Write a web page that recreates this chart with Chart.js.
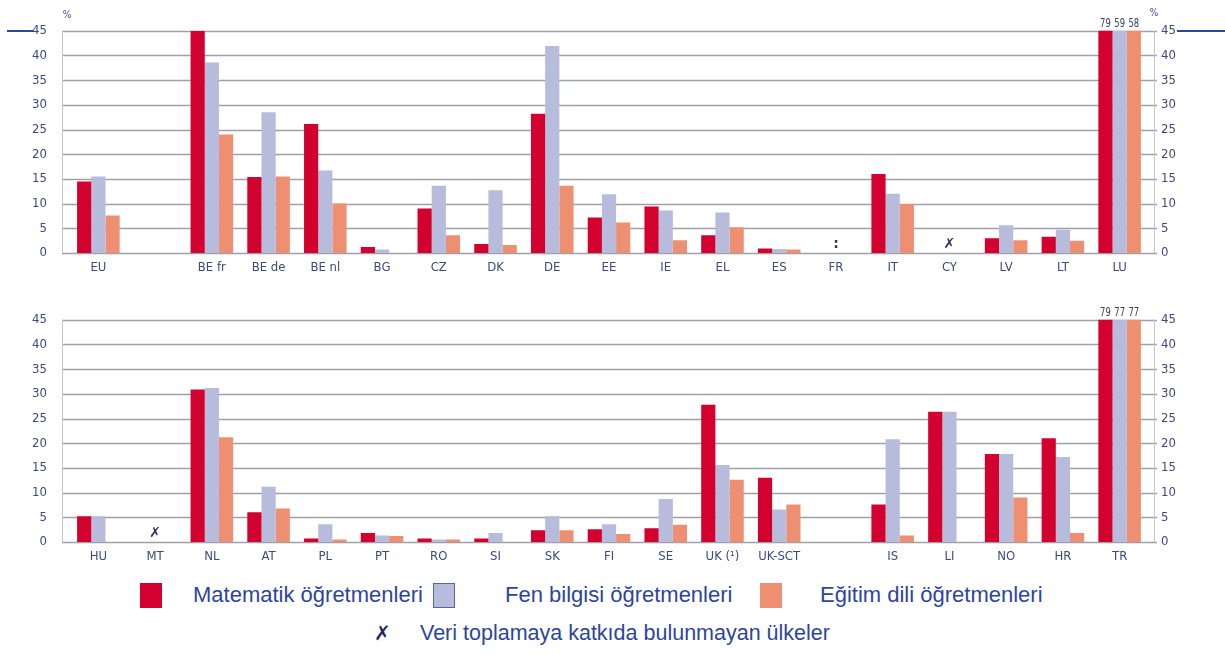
<!DOCTYPE html>
<html lang="tr">
<head>
<meta charset="utf-8">
<script src="https://cdn.jsdelivr.net/npm/chart.js@4.4.1/dist/chart.umd.min.js"></script>
<style>
  body { margin: 0; background: #fff; width: 1225px; height: 655px; position: relative; overflow: hidden;
         font-family: "Liberation Sans", Arial, sans-serif; }
  canvas { position: absolute; left: 0; }
  #chartTop { top: 0; }
  #chartBottom { top: 289px; }
  .rule { position: absolute; height: 2px; background: #2f4a9b; }
  .legend { position: absolute; left: 0; width: 1225px; color: #2d45a0; font-size: 22px; }
  .legend .item { position: absolute; top: 0; white-space: nowrap; }
  .legend .swatch { position: absolute; width: 22px; height: 25px; }
</style>
</head>
<body>
<div class="rule" style="left:7px; top:30px; width:27px;"></div>
<div class="rule" style="left:1177px; top:30px; width:48px;"></div>
<canvas id="chartTop" width="1225" height="285"></canvas>
<canvas id="chartBottom" width="1225" height="285"></canvas>
<div class="legend" id="legendRow" style="top:582px; height:26px;"></div>
<div class="legend" id="legendNote" style="top:621px; height:26px; font-size:21.5px;"></div>
<script>
// series
const seriesNames = ['Matematik öğretmenleri', 'Fen bilgisi öğretmenleri', 'Eğitim dili öğretmenleri'];
const seriesColors = ['#d3012d', '#b7bbdc', '#ee8f71'];

// upper panel
const topLabels = ['EU', '', 'BE fr', 'BE de', 'BE nl', 'BG', 'CZ', 'DK', 'DE', 'EE', 'IE', 'EL', 'ES', 'FR', 'IT', 'CY', 'LV', 'LT', 'LU'];
const topMath     = [14.5, null, 45,   15.4, 26.1, 1.2, 9,    1.8,  28.2, 7.2,  9.4, 3.6, 0.9, null, 16,   null, 3,   3.3, 79];
const topScience  = [15.5, null, 38.6, 28.5, 16.7, 0.7, 13.6, 12.7, 41.9, 11.9, 8.6, 8.2, 0.8, null, 12,   null, 5.6, 4.7, 59];
const topLanguage = [7.6,  null, 24,   15.5, 10,   0,   3.6,  1.6,  13.6, 6.2,  2.6, 5.2, 0.7, null, 9.9,  null, 2.6, 2.5, 58];
const topMarkers = { FR: ':', CY: '✗' };

// lower panel
const bottomLabels = ['HU', 'MT', 'NL', 'AT', 'PL', 'PT', 'RO', 'SI', 'SK', 'FI', 'SE', 'UK (¹)', 'UK-SCT', '', 'IS', 'LI', 'NO', 'HR', 'TR'];
const bottomMath     = [5.2, null, 30.9, 6,    0.7, 1.8, 0.7, 0.7, 2.4, 2.6, 2.8, 27.8, 13,  null, 7.6,  26.4, 17.8, 21,   79];
const bottomScience  = [5.2, null, 31.2, 11.2, 3.6, 1.3, 0.5, 1.8, 5.2, 3.6, 8.7, 15.6, 6.6, null, 20.8, 26.4, 17.8, 17.2, 77];
const bottomLanguage = [0,   null, 21.2, 6.8,  0.5, 1.2, 0.5, 0,   2.4, 1.6, 3.5, 12.6, 7.6, null, 1.3,  0,    9,    1.8,  77];
const bottomMarkers = { MT: '✗' };

const yTicks = [0, 5, 10, 15, 20, 25, 30, 35, 40, 45];
const noteText = 'Veri toplamaya katkıda bulunmayan ülkeler';

const axisFont = { family: '"Liberation Sans Narrow", "DejaVu Sans Condensed", "Liberation Sans", sans-serif', size: 13 };
const axisColor = '#3c4a7d';

// grid lines, axis lines, clipped-bar values, missing-data markers and the % signs
const panelDecor = {
  id: 'panelDecor',
  beforeDatasetsDraw(chart) {
    const { ctx, chartArea, scales } = chart;
    const y = scales.y;
    ctx.save();
    ctx.strokeStyle = '#9ea1aa';
    ctx.lineWidth = 1.5;
    y.ticks.forEach(t => {
      const py = Math.round(y.getPixelForValue(t.value)) + 0.5;
      ctx.beginPath();
      ctx.moveTo(chartArea.left - 8, py);
      ctx.lineTo(chartArea.right + 9, py);
      ctx.stroke();
    });
    ctx.lineWidth = 1;
    ctx.strokeStyle = '#c4c6cc';
    [chartArea.left - 8, chartArea.right + 6].forEach(px => {
      ctx.beginPath();
      ctx.moveTo(px + 0.5, chartArea.top);
      ctx.lineTo(px + 0.5, chartArea.bottom);
      ctx.stroke();
    });
    ctx.restore();
  },
  afterDatasetsDraw(chart, args, opts) {
    const { ctx, chartArea, scales } = chart;
    const max = scales.y.max;
    ctx.save();
    ctx.textAlign = 'center';
    ctx.textBaseline = 'bottom';
    ctx.font = '12px ' + axisFont.family;
    ctx.fillStyle = '#3a3f55';
    // values of bars running past the top of the scale, squeezed to fit the bar width
    chart.data.datasets.forEach((ds, i) => {
      chart.getDatasetMeta(i).data.forEach((bar, j) => {
        if (ds.data[j] > max) {
          ctx.save();
          ctx.translate(bar.x, chartArea.top - 1);
          ctx.scale(0.78, 1);
          ctx.fillText(String(ds.data[j]), 0, 0);
          ctx.restore();
        }
      });
    });

    ctx.fillStyle = '#2a3266';
    ctx.textBaseline = 'middle';
    ctx.font = 'bold 14px "DejaVu Sans", sans-serif';
    Object.entries(opts.markers || {}).forEach(([label, sign]) => {
      const idx = chart.data.labels.indexOf(label);
      ctx.fillText(sign, scales.x.getPixelForValue(idx), chartArea.bottom - 9);
    });

    if (opts.percent) {
      ctx.font = '10px ' + axisFont.family;
      ctx.fillStyle = axisColor;
      ctx.fillText('%', chartArea.left - 3, chartArea.top - 15);
      ctx.fillText('%', chartArea.right + 6, chartArea.top - 17);
    }
    ctx.restore();
  }
};

function makeChart(id, labels, math, science, language, markers, percent) {
  const values = [math, science, language];
  return new Chart(document.getElementById(id), {
    type: 'bar',
    data: {
      labels: labels,
      datasets: values.map((data, i) => ({
        label: seriesNames[i],
        data: data,
        backgroundColor: seriesColors[i],
        borderWidth: 0,
        categoryPercentage: 0.75,
        barPercentage: 1,
        clip: 0
      }))
    },
    options: {
      responsive: false,
      animation: false,
      layout: { padding: { top: 27, left: 0, right: 0, bottom: 0 } },
      plugins: {
        legend: { display: false },
        tooltip: { enabled: false },
        panelDecor: { markers: markers, percent: percent }
      },
      scales: {
        x: {
          grid: { display: false, drawTicks: false },
          border: { display: false },
          ticks: { color: axisColor, font: axisFont, padding: 7, autoSkip: false, maxRotation: 0 },
          afterFit: s => { s.height = 32; }
        },
        y: {
          min: 0, max: 45,
          afterBuildTicks: s => { s.ticks = yTicks.map(v => ({ value: v })); },
          grid: { display: false, drawTicks: false },
          border: { display: false },
          ticks: { color: axisColor, font: axisFont, padding: 23 },
          afterFit: s => { s.width = 70; }
        },
        y2: {
          position: 'right',
          min: 0, max: 45,
          afterBuildTicks: s => { s.ticks = yTicks.map(v => ({ value: v })); },
          grid: { display: false, drawTicks: false },
          border: { display: false },
          ticks: { color: axisColor, font: axisFont, padding: 13 },
          afterFit: s => { s.width = 77; }
        }
      }
    },
    plugins: [panelDecor]
  });
}

makeChart('chartTop', topLabels, topMath, topScience, topLanguage, topMarkers, true);
makeChart('chartBottom', bottomLabels, bottomMath, bottomScience, bottomLanguage, bottomMarkers, false);

// legend below the panels
const legendRow = document.getElementById('legendRow');
const swatchX = [140, 433, 760];
const textX = [193, 505, 820];
seriesNames.forEach((name, i) => {
  const sw = document.createElement('div');
  sw.className = 'swatch';
  sw.style.left = swatchX[i] + 'px';
  sw.style.top = '1px';
  sw.style.background = seriesColors[i];
  if (i === 1) sw.style.boxShadow = 'inset 0 0 0 1px #5a64a8';
  legendRow.appendChild(sw);
  const tx = document.createElement('div');
  tx.className = 'item';
  tx.style.left = textX[i] + 'px';
  tx.textContent = name;
  legendRow.appendChild(tx);
});

const legendNote = document.getElementById('legendNote');
legendNote.innerHTML =
  '<div class="item" style="left:374px; color:#1f2a66; font: bold 20px \'DejaVu Sans\', sans-serif;">✗</div>' +
  '<div class="item" style="left:420px;">' + noteText + '</div>';
</script>
</body>
</html>
